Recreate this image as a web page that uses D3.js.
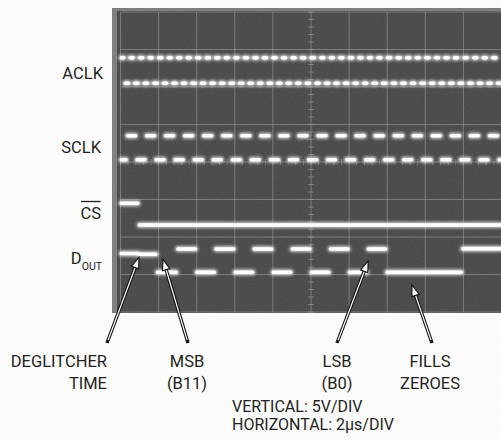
<!DOCTYPE html>
<html lang="en">
<head>
<meta charset="utf-8">
<title>Serial ADC timing - scope shot</title>
<script src="https://cdn.jsdelivr.net/npm/d3@7"></script>
<style>
  body { margin: 0; background: #fff; }
  svg { display: block; }
  text { font-family: Roboto, "Liberation Sans", sans-serif; fill: #231f20; }
</style>
</head>
<body>
<script>

//Width and height
var w = 501;
var h = 440;

//Scope axes: 2us/div over 10 div, 5V/div over 8 div
var tDomain = [0, 20];
var vDomain = [-20, 20];

//ACLK: transition times in us (trace is high at t=0), high / low level in V
var aclkEdges = [0.21, 0.46, 0.71, 0.96, 1.21, 1.46, 1.71, 1.96,
                 2.21, 2.46, 2.71, 2.96, 3.21, 3.46, 3.71, 3.96,
                 4.21, 4.46, 4.71, 4.96, 5.21, 5.46, 5.71, 5.96,
                 6.21, 6.46, 6.71, 6.96, 7.21, 7.46, 7.71, 7.96,
                 8.21, 8.46, 8.71, 8.96, 9.21, 9.46, 9.71, 9.96,
                 10.22, 10.47, 10.72, 10.97, 11.22, 11.47, 11.72, 11.97,
                 12.22, 12.47, 12.72, 12.97, 13.22, 13.47, 13.72, 13.97,
                 14.23, 14.48, 14.73, 14.98, 15.23, 15.48, 15.73, 15.98,
                 16.24, 16.49, 16.74, 16.99, 17.24, 17.49, 17.74, 17.99,
                 18.25, 18.50, 18.75, 19.00, 19.25, 19.50, 19.75, 20.00];
var aclkLevels = [13.9, 10.5];

//SCLK: transition times in us (trace is low at t=0)
var sclkEdges = [0.33, 0.83, 1.33, 1.83, 2.33, 2.83, 3.33, 3.83, 4.33, 4.83,
                 5.33, 5.83, 6.33, 6.83, 7.33, 7.83, 8.33, 8.83, 9.33, 9.83,
                 10.33, 10.83, 11.33, 11.83, 12.33, 12.83, 13.33, 13.83, 14.33, 14.83,
                 15.33, 15.83, 16.33, 16.83, 17.33, 17.83, 18.33, 18.83, 19.33, 19.83];
var sclkLevels = [3.5, 0.3];

//CS: high at t=0, falls once
var csEdges = [0.95];
var csLevels = [-5.5, -8.4];

//DOUT: segment start times (us) and levels (V); last segment runs to 20us
var doutTimes = [0, 0.93, 1.90, 2.97, 3.97, 4.97, 5.98, 6.98, 7.98, 8.98,
                 9.98, 10.98, 11.98, 12.97, 13.95, 17.93];
var doutVolts = [-12.2, -12.3, -14.7, -11.6, -14.7, -11.6, -14.7, -11.6, -14.7, -11.6,
                 -14.7, -11.6, -14.7, -11.6, -14.7, -11.55];

//Callouts below the screen and the point each arrow hits
var noteLabels = [["DEGLITCHER", "TIME"], ["MSB", "(B11)"], ["LSB", "(B0)"], ["FILLS", "ZEROES"]];
var noteTipTimes = [0.97, 2.23, 13.0, 15.3];
var noteTipVolts = [-12.7, -12.95, -13.2, -16.4];

var scaleNotes = ["VERTICAL: 5V/DIV", "HORIZONTAL: 2\u03bcs/DIV"];


//Scales
var xScale = d3.scaleLinear().domain(tDomain).range([120.5, 501.5]);
var yScale = d3.scaleLinear().domain(vDomain).range([312, 12]);

//turn an edge list into alternating level segments
function toSegments(edges, levels, startIdx) {
    var segs = [];
    var t0 = tDomain[0];
    var idx = startIdx;
    edges.concat([tDomain[1]]).forEach(function(t1) {
        if (t1 > t0) segs.push({ t0: t0, t1: Math.min(t1, tDomain[1]), v: levels[idx] });
        t0 = t1;
        idx = 1 - idx;
    });
    return segs;
}

var traces = [
    toSegments(aclkEdges, aclkLevels, 0),
    toSegments(sclkEdges, sclkLevels, 1),
    toSegments(csEdges, csLevels, 0),
    doutTimes.map(function(t, i) {
        return { t0: t, t1: i < doutTimes.length - 1 ? doutTimes[i + 1] : tDomain[1], v: doutVolts[i] };
    })
];

var svg = d3.select("body")
            .append("svg")
            .attr("width", w)
            .attr("height", h);

var defs = svg.append("defs");
var glow = defs.append("filter")
               .attr("id", "glow")
               .attr("filterUnits", "userSpaceOnUse")
               .attr("x", 0).attr("y", 0).attr("width", w).attr("height", h);
glow.append("feGaussianBlur").attr("stdDeviation", 1.5);

var soft = defs.append("filter")
               .attr("id", "soft")
               .attr("filterUnits", "userSpaceOnUse")
               .attr("x", 0).attr("y", 0).attr("width", w).attr("height", h);
soft.append("feTurbulence").attr("type", "fractalNoise").attr("baseFrequency", 0.9).attr("numOctaves", 2).attr("seed", 3).attr("result", "n");
soft.append("feColorMatrix").attr("type", "matrix")
    .attr("values", "0 0 0 0 0.5  0 0 0 0 0.5  0 0 0 0 0.5  0 0 0 0.12 0");

//Screen bezel and face
svg.append("rect")
   .attr("x", 112).attr("y", 8)
   .attr("width", w - 112).attr("height", 305)
   .attr("fill", "#7c7c7c");
svg.append("rect")
   .attr("x", 117).attr("y", 11)
   .attr("width", w - 117).attr("height", 302)
   .attr("fill", "#464646");
svg.append("rect")
   .attr("x", 117).attr("y", 11)
   .attr("width", w - 117).attr("height", 302)
   .attr("filter", "url(#soft)");

//Graticule
var grid = svg.append("g")
              .attr("stroke", "#a4a4a4")
              .attr("stroke-opacity", 0.55)
              .attr("stroke-width", 1);

grid.selectAll("line.v")
    .data(d3.range(tDomain[0], tDomain[1] + 0.1, 2))
    .enter()
    .append("line")
    .attr("class", "v")
    .attr("x1", function(d) { return xScale(d); })
    .attr("x2", function(d) { return xScale(d); })
    .attr("y1", yScale(vDomain[1]))
    .attr("y2", yScale(vDomain[0]));

grid.selectAll("line.h")
    .data(d3.range(vDomain[0], vDomain[1] + 0.1, 5))
    .enter()
    .append("line")
    .attr("class", "h")
    .attr("x1", xScale(tDomain[0]))
    .attr("x2", w)
    .attr("y1", function(d) { return yScale(d); })
    .attr("y2", function(d) { return yScale(d); });

//minor ticks on the centre lines
grid.selectAll("line.tv")
    .data(d3.range(vDomain[0], vDomain[1] + 0.1, 1))
    .enter()
    .append("line")
    .attr("class", "tv")
    .attr("x1", xScale(10) - 3).attr("x2", xScale(10) + 3)
    .attr("y1", function(d) { return yScale(d); })
    .attr("y2", function(d) { return yScale(d); });

grid.selectAll("line.th")
    .data(d3.range(tDomain[0], tDomain[1] + 0.01, 0.4))
    .enter()
    .append("line")
    .attr("class", "th")
    .attr("y1", yScale(0) - 3).attr("y2", yScale(0) + 3)
    .attr("x1", function(d) { return xScale(d); })
    .attr("x2", function(d) { return xScale(d); });

//Traces: soft halo then bright core, transitions are too fast to show
var gap = 0.9;
var traceG = svg.append("g");

traces.forEach(function(segs) {
    var g = traceG.append("g");
    g.append("g")
     .attr("filter", "url(#glow)")
     .selectAll("line")
     .data(segs)
     .enter()
     .append("line")
     .attr("x1", function(d) { return xScale(d.t0) + gap; })
     .attr("x2", function(d) { return Math.max(xScale(d.t0) + gap, xScale(d.t1) - gap); })
     .attr("y1", function(d) { return yScale(d.v); })
     .attr("y2", function(d) { return yScale(d.v); })
     .attr("stroke", "#ececec")
     .attr("stroke-width", 6)
     .attr("stroke-linecap", "round")
     .attr("stroke-opacity", 0.85);
    g.append("g")
     .selectAll("line")
     .data(segs)
     .enter()
     .append("line")
     .attr("x1", function(d) { return xScale(d.t0) + gap; })
     .attr("x2", function(d) { return Math.max(xScale(d.t0) + gap, xScale(d.t1) - gap); })
     .attr("y1", function(d) { return yScale(d.v); })
     .attr("y2", function(d) { return yScale(d.v); })
     .attr("stroke", "#ffffff")
     .attr("stroke-width", 3.6)
     .attr("stroke-linecap", "round");
});

//Channel names
var nameY = [79, 153, 219, 264];
var names = svg.append("g")
               .attr("font-size", "16.5px")
               .attr("text-anchor", "end");

names.append("text").attr("x", 103).attr("y", nameY[0]).text("ACLK");
names.append("text").attr("x", 101).attr("y", nameY[1]).text("SCLK");
var csText = names.append("text").attr("x", 101).attr("y", nameY[2]).text("CS");
var bb = csText.node().getBBox();
names.append("line")
     .attr("x1", bb.x + 0.5).attr("x2", bb.x + bb.width - 0.5)
     .attr("y1", nameY[2] - 17.5).attr("y2", nameY[2] - 17.5)
     .attr("stroke", "#231f20").attr("stroke-width", 1.3);
var dout = names.append("text").attr("x", 102).attr("y", nameY[3]);
dout.append("tspan").text("D");
dout.append("tspan").attr("font-size", "10.5px").attr("dy", 6).text("OUT");

//Callout arrows
var tails = [[107, 343], [188, 343], [337, 343], [432, 343]];
var labelX = [107, 187, 337, 430];
var labelAnchor = ["end", "middle", "middle", "middle"];

var arrows = svg.append("g");
noteLabels.forEach(function(lines, i) {
    var tx = xScale(noteTipTimes[i]), ty = yScale(noteTipVolts[i]);
    var sx = tails[i][0], sy = tails[i][1];
    var dx = tx - sx, dy = ty - sy;
    var len = Math.sqrt(dx * dx + dy * dy);
    var ux = dx / len, uy = dy / len;
    var hl = 11, hw = 3.8;
    var bx = tx - ux * hl, by = ty - uy * hl;

    arrows.append("line")
          .attr("x1", sx).attr("y1", sy).attr("x2", bx + ux).attr("y2", by + uy)
          .attr("stroke", "#111").attr("stroke-width", 3.4);
    arrows.append("line")
          .attr("x1", sx + ux * 3).attr("y1", sy + uy * 3).attr("x2", bx + ux * 2).attr("y2", by + uy * 2)
          .attr("stroke", "#fff").attr("stroke-width", 1.2);
    arrows.append("path")
          .attr("d", "M" + tx + "," + ty +
                     "L" + (bx - uy * hw) + "," + (by + ux * hw) +
                     "L" + (bx + uy * hw) + "," + (by - ux * hw) + "Z")
          .attr("fill", "#fff")
          .attr("stroke", "#111")
          .attr("stroke-width", 1.1)
          .attr("stroke-linejoin", "miter");

    lines.forEach(function(s, j) {
        svg.append("text")
           .attr("x", labelX[i])
           .attr("y", 367 + j * 22)
           .attr("font-size", "16.5px")
           .attr("text-anchor", labelAnchor[i])
           .text(s);
    });
});

//Scope settings
scaleNotes.forEach(function(s, j) {
    svg.append("text")
       .attr("x", 232)
       .attr("y", 412 + j * 18)
       .attr("font-size", "16px")
       .text(s);
});

</script>
</body>
</html>
